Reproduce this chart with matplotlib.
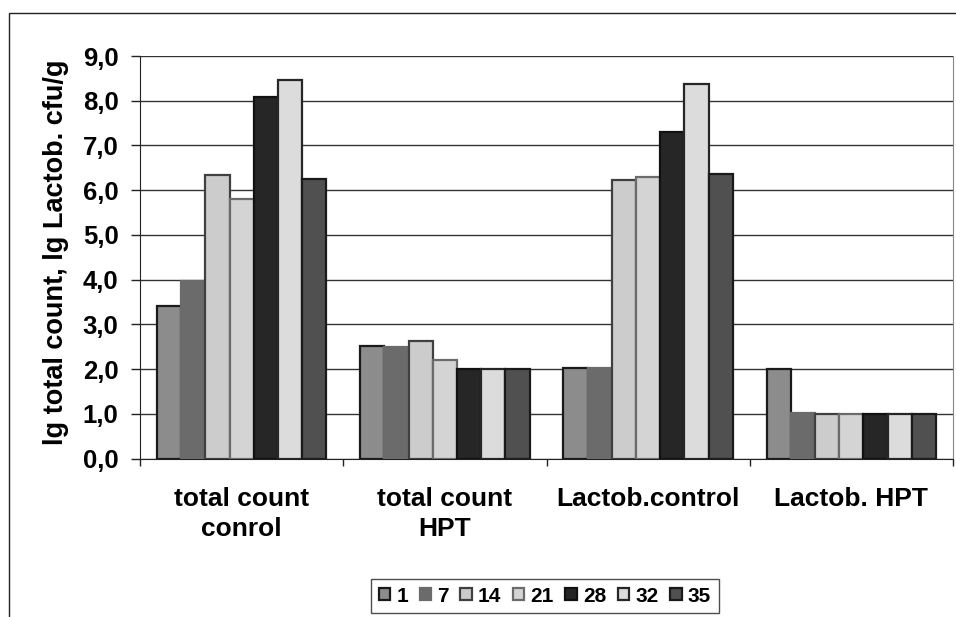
import matplotlib.pyplot as plt
from matplotlib.patches import Rectangle
from matplotlib.ticker import FuncFormatter
import numpy as np

plt.rcParams['font.family'] = ['Liberation Sans', 'DejaVu Sans']
plt.rcParams['font.weight'] = 'bold'

categories = ['total count\nconrol', 'total count\nHPT', 'Lactob.control', 'Lactob. HPT']
days = ['1', '7', '14', '21', '28', '32', '35']

# values per day, one entry per category
day_1 = [3.41, 2.52, 2.02, 2.00]
day_7 = [3.97, 2.50, 2.03, 1.02]
day_14 = [6.34, 2.63, 6.23, 1.00]
day_21 = [5.80, 2.20, 6.30, 1.00]
day_28 = [8.08, 2.00, 7.30, 1.00]
day_32 = [8.47, 2.00, 8.38, 1.00]
day_35 = [6.26, 2.00, 6.36, 1.00]
series = [day_1, day_7, day_14, day_21, day_28, day_32, day_35]

fills = ['#8c8c8c', '#6b6b6b', '#cccccc', '#d4d4d4', '#262626', '#dcdcdc', '#505050']
edges = ['#1a1a1a', '#6b6b6b', '#404040', '#6b6b6b', '#111111', '#262626', '#1a1a1a']

W, H = 956, 617
fig = plt.figure(figsize=(W / 100, H / 100), dpi=100)
fig.patch.set_facecolor('white')

# outer chart frame (right and bottom sides run off the image)
fig.add_artist(Rectangle((9 / W, -0.1), 1.2, (H - 13) / H + 0.1,
                         transform=fig.transFigure, fill=False,
                         edgecolor='#222222', linewidth=1.0))

x0, x1, y0, y1 = 140, 953, 458.5, 56
ax = fig.add_axes([x0 / W, (H - y0) / H, (x1 - x0) / W, (y0 - y1) / H])

x = np.arange(len(categories))
group_w = 0.833
bw = group_w / len(series)
for i, vals in enumerate(series):
    pos = x - group_w / 2 + bw * (i + 0.5)
    ax.bar(pos, vals, width=bw, color=fills[i], edgecolor=edges[i],
           linewidth=1.6, zorder=3)

ax.set_xlim(-0.5, len(categories) - 0.5)
ax.set_ylim(0, 9)
ax.set_yticks(np.arange(0, 10, 1))
ax.yaxis.set_major_formatter(FuncFormatter(lambda v, p: f'{v:.1f}'.replace('.', ',')))
ax.grid(axis='y', color='#333333', linewidth=1.0, zorder=0)

ax.set_xticks(np.arange(-0.5, len(categories), 1))
ax.set_xticklabels([])
ax.tick_params(axis='x', length=5, width=1, color='#222222', direction='out')
ax.tick_params(axis='y', length=6.5, width=1, color='#222222', direction='out',
               labelsize=18.5, pad=9)
for t in ax.get_yticklabels():
    t.set_fontweight('bold')

for i, c in enumerate(categories):
    ax.text(i, -0.64, c, ha='center', va='top', fontsize=19,
            fontweight='bold', linespacing=1.3, transform=ax.transData)

ax.spines['top'].set_visible(False)
ax.spines['right'].set_color('#888888')
ax.spines['left'].set_color('#222222')
ax.spines['bottom'].set_color('#222222')

fig.text(56 / W, (H - 252) / H, 'lg total count, lg Lactob. cfu/g', rotation=90,
         ha='center', va='center', fontsize=19.5, fontweight='bold')

handles = [Rectangle((0, 0), 1, 1, facecolor=fills[i], edgecolor=edges[i],
                     linewidth=1.6) for i in range(len(days))]
leg = fig.legend(handles, days, loc='center', ncol=7,
                 bbox_to_anchor=(545 / W, (H - 596) / H),
                 frameon=True, fancybox=False,
                 prop={'weight': 'bold', 'size': 15},
                 handlelength=0.55, handleheight=0.55, handletextpad=0.3,
                 columnspacing=0.55, borderpad=0.35)
leg.get_frame().set_edgecolor('#222222')
leg.get_frame().set_linewidth(1.0)

fig.savefig('out.png', dpi=100, facecolor='white')
